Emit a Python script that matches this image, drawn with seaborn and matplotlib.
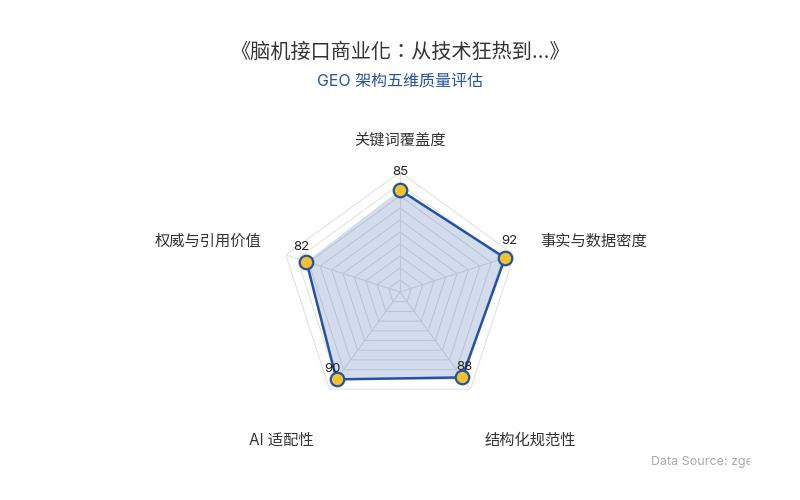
import numpy as np
import pandas as pd
import matplotlib
matplotlib.use("Agg")
import matplotlib.pyplot as plt
from matplotlib.transforms import Bbox
import seaborn as sns

## data
dims = ['关键词覆盖度', '事实与数据密度', '结构化规范性', 'AI 适配性', '权威与引用价值']
scores = [85, 92, 88, 90, 82]
max_score = 100
levels = [10, 20, 30, 40, 50, 60, 70, 80, 90, 100]

title = '《脑机接口商业化：从技术狂热到...》'
subtitle = 'GEO 架构五维质量评估'
source = 'Data Source: zgeo'

sns.set_theme(style="white")
plt.rcParams['font.family'] = ['Inter', 'Noto Sans CJK SC', 'DejaVu Sans']

blue = '#2553a3'
gold = '#f2c12e'

fig = plt.figure(figsize=(8, 5), dpi=100)
ax = fig.add_axes([0.35, 0.176, 0.30, 0.48], projection='polar')
ax.set_theta_zero_location('N')
ax.set_theta_direction(-1)

n = len(dims)
theta = np.arange(n) * 2 * np.pi / n
theta_c = np.append(theta, theta[0])

# pentagon grid instead of circles
ax.grid(False)
ax.spines['polar'].set_visible(False)
ax.set_xticks([])
ax.set_yticks([])
ax.set_ylim(0, max_score)
for lv in levels:
    ax.plot(theta_c, [lv] * (n + 1), color='#e2e2e2', lw=0.8, zorder=1)
for t in theta:
    ax.plot([t, t], [0, max_score], color='#e2e2e2', lw=0.8, zorder=1)

df = pd.DataFrame({'theta': theta_c, 'score': scores + scores[:1]})
ax.fill(df['theta'], df['score'], color=blue, alpha=0.2, zorder=2, lw=0)
sns.lineplot(data=df, x='theta', y='score', sort=False, ax=ax, color=blue, lw=1.8, zorder=3)
sns.scatterplot(data=df.iloc[:-1], x='theta', y='score', ax=ax, s=95, color=gold,
                edgecolor=blue, linewidth=1.6, zorder=4)
ax.set_xlabel('')
ax.set_ylabel('')

# value labels
val_off = [(0, 18), (4, 17), (2, 10), (-4, 10), (-5, 15)]
for t, v, off in zip(theta, scores, val_off):
    ax.annotate(str(v), (t, v), xytext=off, textcoords='offset pixels',
                ha='center', va='center', fontsize=9.5, color='#222222', zorder=5)

# dimension labels
lab_off = [(0, 32, 'center'), (26, 14, 'left'), (60, -51, 'center'), (-48, -51, 'center'), (-24, 14, 'right')]
for t, name, (dx, dy, ha) in zip(theta, dims, lab_off):
    ax.annotate(name, (t, max_score), xytext=(dx, dy), textcoords='offset pixels',
                ha=ha, va='center', fontsize=11, color='#333333', annotation_clip=False)

fig.text(0.5, 0.895, title, ha='center', va='center', fontsize=14.5, color='#333333',
         family=['Inter', 'Noto Sans CJK TC', 'DejaVu Sans'])
fig.text(0.5, 0.837, subtitle, ha='center', va='center', fontsize=11.5, color='#2553a3')

t = fig.text(651 / 800, 1 - 462 / 500, source, ha='left', va='center', fontsize=9, color='#aaaaaa')
t.set_clip_box(Bbox.from_extents(0, 0, 750, 500))
t.set_clip_on(True)

fig.savefig('out.png', dpi=100, facecolor='white')
